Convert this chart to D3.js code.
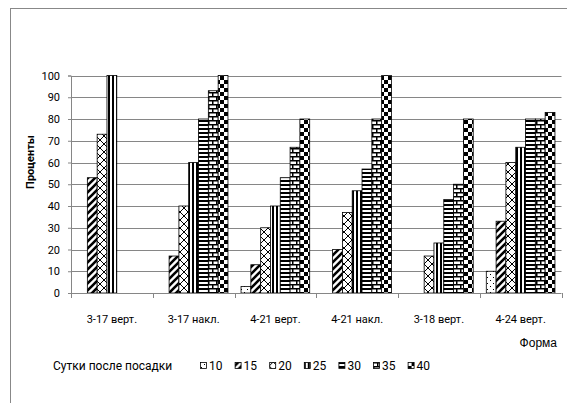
<!DOCTYPE html>
<html>
<head>
<meta charset="utf-8">
<script src="https://cdn.jsdelivr.net/npm/d3@7"></script>
<style>
  body { margin: 0; background: #fff; }
  text { font-family: Roboto, "Open Sans", sans-serif; }
</style>
</head>
<body>
<div id="chart"></div>
<script>
var categories = ["3-17 верт.", "3-17 накл.", "4-21 верт.", "4-21 накл.", "3-18 верт.", "4-24 верт."];
var seriesNames = ["10", "15", "20", "25", "30", "35", "40"];
var s10 = [0, 0, 3, 0, 0, 10];
var s15 = [53, 17, 13, 20, 0, 33];
var s20 = [73, 40, 30, 37, 17, 60];
var s25 = [100, 60, 40, 47, 23, 67];
var s30 = [0, 80, 53, 57, 43, 80];
var s35 = [0, 93, 67, 80, 50, 80];
var s40 = [0, 100, 80, 100, 80, 83];
var yTicks = [0, 10, 20, 30, 40, 50, 60, 70, 80, 90, 100];

var series = [s10, s15, s20, s25, s30, s35, s40];

var w = 567, h = 403;
var plotLeft = 71, plotRight = 561.5, plotTop = 75.5, plotBottom = 293;

var svg = d3.select("#chart").append("svg")
  .attr("width", w)
  .attr("height", h);

// fill patterns, one per series
var defs = svg.append("defs");
function pat(id, size) {
  var p = defs.append("pattern")
    .attr("id", id)
    .attr("patternUnits", "userSpaceOnUse")
    .attr("width", size)
    .attr("height", size);
  p.append("rect").attr("width", size).attr("height", size).attr("fill", "#fff");
  return p;
}
var p;
p = pat("p10", 6);
p.append("rect").attr("x", 1).attr("y", 1).attr("width", 1).attr("height", 1).attr("fill", "#000");
p.append("rect").attr("x", 4).attr("y", 4).attr("width", 1).attr("height", 1).attr("fill", "#000");

p = pat("p15", 7);
p.append("path").attr("d", "M-1,8 L8,-1 M-4,4 L4,-4 M3,11 L11,3").attr("stroke", "#000").attr("stroke-width", 2.6);

p = pat("p20", 8);
p.append("path").attr("d", "M0,0 L8,8 M8,0 L0,8").attr("stroke", "#000").attr("stroke-width", 1);

p = pat("p25", 4);
p.append("rect").attr("x", 0).attr("y", 0).attr("width", 2).attr("height", 4).attr("fill", "#000");

p = pat("p30", 4);
p.append("rect").attr("x", 0).attr("y", 0).attr("width", 4).attr("height", 2).attr("fill", "#000");

p = pat("p35", 8);
p.append("path").attr("d", "M0,0.75 H8 M0,4.75 H8 M0.75,0 V4 M4.75,4 V8").attr("stroke", "#000").attr("stroke-width", 1.5);

p = pat("p40", 8);
p.append("rect").attr("x", 0).attr("y", 0).attr("width", 4).attr("height", 4).attr("fill", "#000");
p.append("rect").attr("x", 4).attr("y", 4).attr("width", 4).attr("height", 4).attr("fill", "#000");

// outer chart frame (extends past the window)
svg.append("rect")
  .attr("x", 10.5).attr("y", 8.5)
  .attr("width", 600).attr("height", 420)
  .attr("fill", "none").attr("stroke", "#888").attr("stroke-width", 1);

var x0 = d3.scaleBand().domain(categories).range([plotLeft, plotRight]).padding(0);
var x1 = d3.scaleBand().domain(seriesNames)
  .range([x0.bandwidth() * 0.08, x0.bandwidth() * 0.92]).padding(0);
var y = d3.scaleLinear().domain([0, 100]).range([plotBottom, plotTop]);

// gridlines
svg.append("g")
  .selectAll("line")
  .data(yTicks.slice(1))
  .enter().append("line")
  .attr("x1", plotLeft).attr("x2", plotRight)
  .attr("y1", function(d) { return Math.round(y(d)) + 0.5; })
  .attr("y2", function(d) { return Math.round(y(d)) + 0.5; })
  .attr("stroke", "#868686");

// bars
var groups = svg.append("g")
  .selectAll("g")
  .data(series)
  .enter().append("g")
  .attr("fill", function(d, i) { return "url(#p" + seriesNames[i] + ")"; });

groups.selectAll("rect")
  .data(function(d, i) {
    return d.map(function(v, j) { return { v: v, cat: categories[j], s: seriesNames[i] }; })
      .filter(function(e) { return e.v > 0; });
  })
  .enter().append("rect")
  .attr("x", function(d) { return x0(d.cat) + x1(d.s); })
  .attr("y", function(d) { return y(d.v); })
  .attr("width", x1.bandwidth())
  .attr("height", function(d) { return plotBottom - y(d.v); })
  .attr("stroke", "#000")
  .attr("stroke-width", 0.8);

// y axis
var yaxis = d3.axisLeft(y).tickValues(yTicks).tickSize(3).tickPadding(8);
var gy = svg.append("g")
  .attr("transform", "translate(" + plotLeft + ",0)")
  .call(yaxis);
gy.select(".domain").attr("stroke", "#868686");
gy.selectAll(".tick line").attr("stroke", "#868686");
gy.selectAll("text").attr("font-size", "11px").attr("fill", "#000")
  .style("font-family", "Roboto, sans-serif");

// x axis: ticks at category boundaries
var gx = svg.append("g")
  .attr("transform", "translate(0," + plotBottom + ")");
gx.append("line").attr("x1", plotLeft).attr("x2", plotRight).attr("y1", 0.5).attr("y2", 0.5).attr("stroke", "#868686");
gx.selectAll(".bt")
  .data(categories.concat([null]))
  .enter().append("line")
  .attr("x1", function(d, i) { return Math.round(i < categories.length ? x0(d) : plotRight) + 0.5; })
  .attr("x2", function(d, i) { return Math.round(i < categories.length ? x0(d) : plotRight) + 0.5; })
  .attr("y1", 0).attr("y2", 5)
  .attr("stroke", "#868686");
gx.selectAll(".cl")
  .data(categories)
  .enter().append("text")
  .attr("x", function(d) { return x0(d) + x0.bandwidth() / 2; })
  .attr("y", 30)
  .attr("text-anchor", "middle")
  .attr("font-size", "11px")
  .text(function(d) { return d; });

// axis titles
svg.append("text")
  .attr("transform", "translate(34,162) rotate(-90)")
  .attr("text-anchor", "middle")
  .attr("font-size", "11px")
  .attr("font-weight", "bold")
  .text("Проценты");

svg.append("text")
  .attr("x", 557).attr("y", 347)
  .attr("text-anchor", "end")
  .attr("font-size", "12px")
  .style("font-family", "'Liberation Sans', Arial, sans-serif")
  .text("Форма");

// legend
var legend = svg.append("g").attr("transform", "translate(0,366)");
legend.append("text")
  .attr("x", 53).attr("y", 4)
  .attr("font-size", "12px")
  .text("Сутки после посадки");
var li = legend.selectAll(".li")
  .data(seriesNames)
  .enter().append("g")
  .attr("transform", function(d, i) { return "translate(" + (200 + i * 34.6) + ",0)"; });
li.append("rect")
  .attr("x", 0.5).attr("y", -3.5)
  .attr("width", 6).attr("height", 6)
  .attr("fill", function(d) { return "url(#p" + d + ")"; })
  .attr("stroke", "#000").attr("stroke-width", 0.8);
li.append("text")
  .attr("x", 9).attr("y", 4)
  .attr("font-size", "12px")
  .text(function(d) { return d; });
</script>
</body>
</html>
